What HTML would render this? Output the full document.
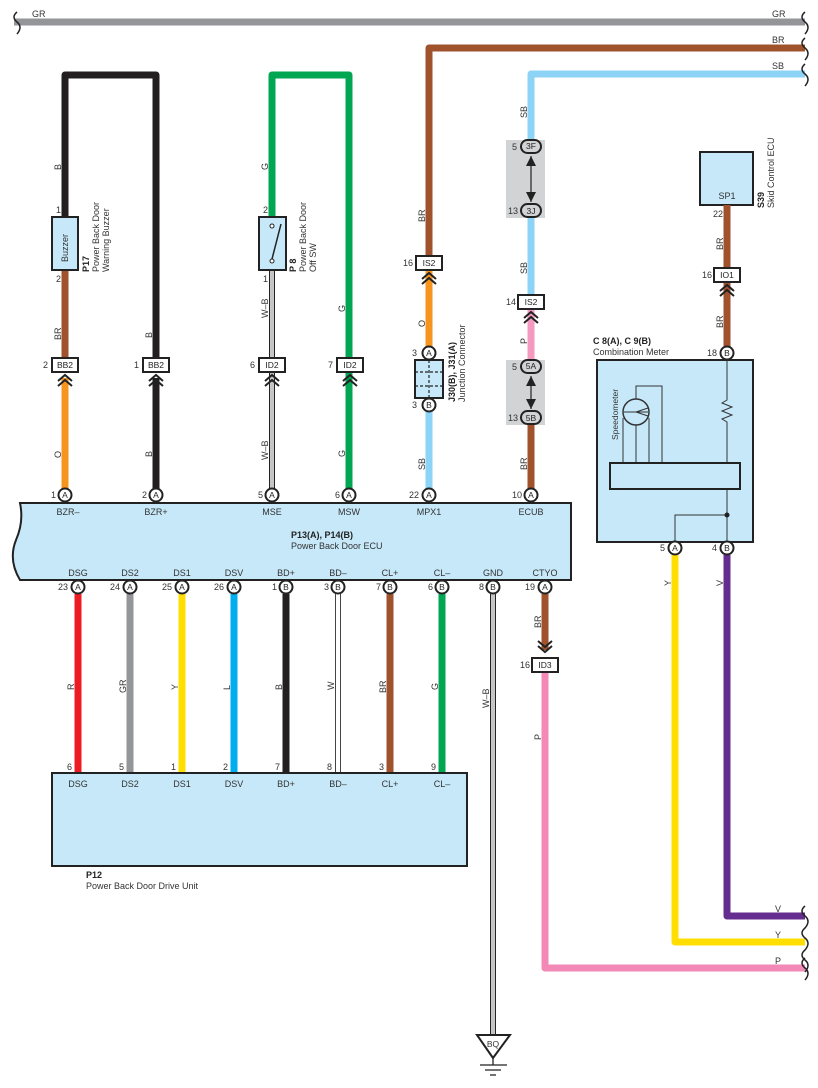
<!DOCTYPE html>
<html><head><meta charset="utf-8"><style>
html,body{margin:0;padding:0;background:#fff}
svg{display:block;font-family:"Liberation Sans",sans-serif}
text{fill:#333;font-size:9px}
.b{font-weight:bold;fill:#222}
.pc{fill:#fff;stroke:#222;stroke-width:2}
.pt{font-size:8.5px;fill:#222;text-anchor:middle}
.cb{fill:#fff;stroke:#222;stroke-width:2}
.ch{fill:none;stroke:#222;stroke-width:2}
.w{fill:none;stroke-width:7;stroke-linejoin:round}
.m{text-anchor:middle}
.e{text-anchor:end}
</style></head><body>
<svg width="818" height="1088" viewBox="0 0 818 1088" xmlns="http://www.w3.org/2000/svg">
<!-- top buses -->
<path class="w" stroke="#939598" d="M14 22H805"/>
<path d="M17 12q-6 5 0 10t0 12" fill="none" stroke="#222" stroke-width="1.5"/>
<path d="M805 12q-6 5 0 10t0 12" fill="none" stroke="#222" stroke-width="1.5"/>
<text x="32" y="17">GR</text><text x="772" y="17">GR</text>
<path class="w" stroke="#a0522d" d="M805 48H429V262"/>
<path d="M805 38q-6 5 0 10t0 12" fill="none" stroke="#222" stroke-width="1.5"/>
<text x="772" y="43">BR</text>
<path class="w" stroke="#8dd3f5" d="M805 74H531V301"/>
<path d="M805 64q-6 5 0 10t0 12" fill="none" stroke="#222" stroke-width="1.5"/>
<text x="772" y="69">SB</text>

<!-- black loop -->
<path class="w" stroke="#231f20" d="M65 217V75H156V365"/>
<path class="w" stroke="#231f20" d="M156 378V495"/>
<path class="w" stroke="#a0522d" d="M65 270V365"/>
<path class="w" stroke="#f7941d" d="M65 378V495"/>
<!-- green loop -->
<path class="w" stroke="#00a651" d="M272 217V75H349V495"/>
<!-- W-B double -->
<path d="M272 270V495" stroke="#222" stroke-width="6" fill="none"/>
<path d="M272 270V495" stroke="#fff" stroke-width="3.5" fill="none"/>
<path d="M272 270V495" stroke="#888" stroke-width="1" fill="none"/>

<!-- buzzer -->
<rect x="52" y="217" width="26" height="53" fill="#c6e8f9" stroke="#222" stroke-width="2"/>
<text transform="translate(68,262) rotate(-90)">Buzzer</text>
<text x="56" y="213">1</text><text x="56" y="282">2</text>
<text transform="translate(89,272) rotate(-90)" class="b">P17</text>
<text transform="translate(99,272) rotate(-90)">Power Back Door</text>
<text transform="translate(109,272) rotate(-90)">Warning Buzzer</text>
<text transform="translate(61,170) rotate(-90)">B</text>
<text transform="translate(61,340) rotate(-90)">BR</text>
<text transform="translate(61,458) rotate(-90)">O</text>
<text transform="translate(152,338) rotate(-90)">B</text>
<text transform="translate(152,457) rotate(-90)">B</text>
<!-- switch -->
<rect x="259" y="217" width="27" height="53" fill="#c6e8f9" stroke="#222" stroke-width="2"/>
<circle cx="272" cy="226" r="2" fill="#fff" stroke="#222"/><circle cx="272" cy="261" r="2" fill="#fff" stroke="#222"/>
<path d="M272 259L281 224" stroke="#222" stroke-width="1.5"/>
<text x="263" y="213">2</text><text x="263" y="282">1</text>
<text transform="translate(296,272) rotate(-90)" class="b">P 8</text>
<text transform="translate(306,272) rotate(-90)">Power Back Door</text>
<text transform="translate(316,272) rotate(-90)">Off SW</text>
<text transform="translate(268,170) rotate(-90)">G</text>
<text transform="translate(268,318) rotate(-90)">W–B</text>
<text transform="translate(268,460) rotate(-90)">W–B</text>
<text transform="translate(345,312) rotate(-90)">G</text>
<text transform="translate(345,457) rotate(-90)">G</text>

<!-- BB2/ID2 connectors row -->
<g>
<rect class="cb" x="52" y="358" width="26" height="14"/><text class="pt" x="65" y="368">BB2</text><text x="43" y="368">2</text>
<path class="ch" d="M58 381l7-6 7 6M58 386l7-6 7 6"/>
<rect class="cb" x="143" y="358" width="26" height="14"/><text class="pt" x="156" y="368">BB2</text><text x="134" y="368">1</text>
<path class="ch" d="M149 381l7-6 7 6M149 386l7-6 7 6"/>
<rect class="cb" x="259" y="358" width="26" height="14"/><text class="pt" x="272" y="368">ID2</text><text x="250" y="368">6</text>
<path class="ch" d="M265 381l7-6 7 6M265 386l7-6 7 6"/>
<rect class="cb" x="337" y="358" width="26" height="14"/><text class="pt" x="350" y="368">ID2</text><text x="328" y="368">7</text>
<path class="ch" d="M343 381l7-6 7 6M343 386l7-6 7 6"/>
</g>

<!-- MPX column -->
<path class="w" stroke="#f7941d" d="M429 270V353"/>
<path class="w" stroke="#8dd3f5" d="M429 405V495"/>
<rect class="cb" x="416" y="256" width="26" height="14"/><text class="pt" x="429" y="266">IS2</text><text x="403" y="266">16</text>
<path class="ch" d="M422 279l7-6 7 6M422 284l7-6 7 6"/>
<text transform="translate(425,222) rotate(-90)">BR</text>
<text transform="translate(425,327) rotate(-90)">O</text>
<text transform="translate(425,470) rotate(-90)">SB</text>
<rect x="415" y="360" width="28" height="38" fill="#c6e8f9" stroke="#222" stroke-width="2"/>
<path d="M429 360V398M415 372H443M415 386H443" stroke="#222" stroke-width="1.2" stroke-dasharray="3 2"/>
<circle class="pc" cx="429" cy="353" r="6.5"/><text class="pt" x="429" y="356">A</text><text x="412" y="356">3</text>
<circle class="pc" cx="429" cy="405" r="6.5"/><text class="pt" x="429" y="408">B</text><text x="412" y="408">3</text>
<text transform="translate(455,402) rotate(-90)" class="b">J30(B), J31(A)</text>
<text transform="translate(465,402) rotate(-90)">Junction Connector</text>

<!-- ECUB column -->
<rect x="506" y="140" width="39" height="78" fill="#d1d3d4"/>
<rect x="506" y="360" width="39" height="65" fill="#d1d3d4"/>
<path class="w" stroke="#8dd3f5" d="M531 218V301"/>
<path class="w" stroke="#f49ac1" d="M531 308V360"/>
<path class="w" stroke="#a0522d" d="M531 424V495"/>
<rect x="521" y="140" width="20" height="13" rx="6.5" fill="#d1d3d4" stroke="#222" stroke-width="2"/><text class="pt" x="531" y="149">3F</text><text x="512" y="150">5</text>
<rect x="521" y="204" width="20" height="13" rx="6.5" fill="#d1d3d4" stroke="#222" stroke-width="2"/><text class="pt" x="531" y="214">3J</text><text x="508" y="214">13</text>
<path d="M531 156V202" stroke="#222" stroke-width="1.2"/>
<path d="M526 166l5-10 5 10zM526 192l5 10 5-10z" fill="#222"/>
<rect x="521" y="360" width="20" height="13" rx="6.5" fill="#d1d3d4" stroke="#222" stroke-width="2"/><text class="pt" x="531" y="369">5A</text><text x="512" y="370">5</text>
<rect x="521" y="411" width="20" height="13" rx="6.5" fill="#d1d3d4" stroke="#222" stroke-width="2"/><text class="pt" x="531" y="421">5B</text><text x="508" y="421">13</text>
<path d="M531 376V409" stroke="#222" stroke-width="1.2"/>
<path d="M526 386l5-10 5 10zM526 399l5 10 5-10z" fill="#222"/>
<rect class="cb" x="518" y="295" width="26" height="14"/><text class="pt" x="531" y="305">IS2</text><text x="506" y="305">14</text>
<path class="ch" d="M524 318l7-6 7 6M524 323l7-6 7 6"/>
<text transform="translate(527,118) rotate(-90)">SB</text>
<text transform="translate(527,274) rotate(-90)">SB</text>
<text transform="translate(527,344) rotate(-90)">P</text>
<text transform="translate(527,470) rotate(-90)">BR</text>

<!-- SP1 & meter -->
<rect x="700" y="152" width="53" height="53" fill="#c6e8f9" stroke="#222" stroke-width="2"/>
<text class="m" x="727" y="199">SP1</text>
<text x="713" y="217">22</text>
<text transform="translate(764,208) rotate(-90)" class="b">S39</text>
<text transform="translate(774,208) rotate(-90)">Skid Control ECU</text>
<path class="w" stroke="#a0522d" d="M727 205V269"/>
<path class="w" stroke="#a0522d" d="M727 282V353"/>
<rect class="cb" x="714" y="268" width="26" height="14"/><text class="pt" x="727" y="278">IO1</text><text x="702" y="278">16</text>
<path class="ch" d="M720 291l7-6 7 6M720 296l7-6 7 6"/>
<text transform="translate(723,250) rotate(-90)">BR</text>
<text transform="translate(723,328) rotate(-90)">BR</text>
<text x="593" y="344" class="b">C 8(A), C 9(B)</text>
<text x="593" y="355">Combination Meter</text>
<rect x="597" y="360" width="156" height="182" fill="#c6e8f9" stroke="#222" stroke-width="2"/>
<g fill="none" stroke="#333" stroke-width="1">
<circle cx="636" cy="412" r="13" stroke-width="1.5"/>
<path d="M624 412H648M636 412l12-4M636 412l12 4"/>
<path d="M623 418V463M636 425V463M649 418V463M636 399V386H662V463"/>
<path d="M727 360V400l-5 3 10 4-10 4 10 4-10 4 5 3V463M727 489V548M675 548V515H727"/>
</g>
<rect x="610" y="463" width="130" height="26" fill="#c6e8f9" stroke="#222" stroke-width="2"/>
<circle cx="727" cy="515" r="2.5" fill="#222"/>
<text transform="translate(618,440) rotate(-90)" style="font-size:8.5px">Speedometer</text>
<circle class="pc" cx="727" cy="353" r="6.5"/><text class="pt" x="727" y="356">B</text><text x="707" y="356">18</text>
<path class="w" stroke="#ffde00" d="M675 555V942H805"/>
<path class="w" stroke="#662d91" d="M727 555V916H805"/>
<path class="w" stroke="#f389b6" d="M545 672V968H805"/>
<circle class="pc" cx="675" cy="548" r="6.5"/><text class="pt" x="675" y="551">A</text><text x="660" y="551">5</text>
<circle class="pc" cx="727" cy="548" r="6.5"/><text class="pt" x="727" y="551">B</text><text x="712" y="551">4</text>
<text transform="translate(671,586) rotate(-90)">Y</text>
<text transform="translate(723,586) rotate(-90)">V</text>
<text x="775" y="912">V</text><text x="775" y="938">Y</text><text x="775" y="964">P</text>
<path d="M805 906q-6 5 0 10t0 12q-6 5 0 10t0 12q-6 5 0 10t0 12" fill="none" stroke="#222" stroke-width="1.5"/>
<path d="M805 958q-6 5 0 10t0 12" fill="none" stroke="#222" stroke-width="1.5"/>

<!-- ECU box -->
<path d="M20 503H571V580H20Q8 560 16 540Q24 522 20 503Z" fill="#c6e8f9" stroke="#222" stroke-width="2"/>
<text class="m" x="68" y="515">BZR–</text><text class="m" x="156" y="515">BZR+</text>
<text class="m" x="272" y="515">MSE</text><text class="m" x="349" y="515">MSW</text>
<text class="m" x="429" y="515">MPX1</text><text class="m" x="531" y="515">ECUB</text>
<text x="291" y="538" class="b">P13(A), P14(B)</text>
<text x="291" y="549">Power Back Door ECU</text>
<g class="m">
<text class="m" x="78" y="576">DSG</text><text class="m" x="130" y="576">DS2</text><text class="m" x="182" y="576">DS1</text>
<text class="m" x="234" y="576">DSV</text><text class="m" x="286" y="576">BD+</text><text class="m" x="338" y="576">BD–</text>
<text class="m" x="390" y="576">CL+</text><text class="m" x="442" y="576">CL–</text><text class="m" x="493" y="576">GND</text>
<text class="m" x="545" y="576">CTYO</text>
</g>
<!-- top pins -->
<circle class="pc" cx="65" cy="495" r="6.5"/><text class="pt" x="65" y="498">A</text><text x="51" y="498">1</text>
<circle class="pc" cx="156" cy="495" r="6.5"/><text class="pt" x="156" y="498">A</text><text x="142" y="498">2</text>
<circle class="pc" cx="272" cy="495" r="6.5"/><text class="pt" x="272" y="498">A</text><text x="258" y="498">5</text>
<circle class="pc" cx="349" cy="495" r="6.5"/><text class="pt" x="349" y="498">A</text><text x="335" y="498">6</text>
<circle class="pc" cx="429" cy="495" r="6.5"/><text class="pt" x="429" y="498">A</text><text x="409" y="498">22</text>
<circle class="pc" cx="531" cy="495" r="6.5"/><text class="pt" x="531" y="498">A</text><text x="512" y="498">10</text>

<!-- bottom wires -->
<path class="w" stroke="#ed1c24" d="M78 594V773"/>
<path class="w" stroke="#939598" d="M130 594V773"/>
<path class="w" stroke="#ffde00" d="M182 594V773"/>
<path class="w" stroke="#00aeef" d="M234 594V773"/>
<path class="w" stroke="#231f20" d="M286 594V773"/>
<path d="M338 594V773" stroke="#444" stroke-width="6" fill="none"/><path d="M338 594V773" stroke="#fff" stroke-width="4" fill="none"/>
<path class="w" stroke="#a0522d" d="M390 594V773"/>
<path class="w" stroke="#00a651" d="M442 594V773"/>
<path d="M493 594V1035" stroke="#222" stroke-width="6" fill="none"/><path d="M493 594V1035" stroke="#fff" stroke-width="3.5" fill="none"/><path d="M493 594V1035" stroke="#888" stroke-width="1" fill="none"/>
<path class="w" stroke="#a0522d" d="M545 594V650"/>
<path class="ch" d="M538 641l7 6 7-6M538 646l7 6 7-6"/>
<rect class="cb" x="532" y="658" width="26" height="14"/><text class="pt" x="545" y="668">ID3</text><text x="520" y="668">16</text>
<text transform="translate(541,628) rotate(-90)">BR</text>
<text transform="translate(541,740) rotate(-90)">P</text>
<text transform="translate(74,690) rotate(-90)">R</text>
<text transform="translate(126,693) rotate(-90)">GR</text>
<text transform="translate(178,690) rotate(-90)">Y</text>
<text transform="translate(230,690) rotate(-90)">L</text>
<text transform="translate(282,690) rotate(-90)">B</text>
<text transform="translate(334,690) rotate(-90)">W</text>
<text transform="translate(386,693) rotate(-90)">BR</text>
<text transform="translate(438,690) rotate(-90)">G</text>
<text transform="translate(489,708) rotate(-90)">W–B</text>
<!-- bottom pins -->
<circle class="pc" cx="78" cy="587" r="6.5"/><text class="pt" x="78" y="590">A</text><text x="58" y="590">23</text>
<circle class="pc" cx="130" cy="587" r="6.5"/><text class="pt" x="130" y="590">A</text><text x="110" y="590">24</text>
<circle class="pc" cx="182" cy="587" r="6.5"/><text class="pt" x="182" y="590">A</text><text x="162" y="590">25</text>
<circle class="pc" cx="234" cy="587" r="6.5"/><text class="pt" x="234" y="590">A</text><text x="214" y="590">26</text>
<circle class="pc" cx="286" cy="587" r="6.5"/><text class="pt" x="286" y="590">B</text><text x="272" y="590">1</text>
<circle class="pc" cx="338" cy="587" r="6.5"/><text class="pt" x="338" y="590">B</text><text x="324" y="590">3</text>
<circle class="pc" cx="390" cy="587" r="6.5"/><text class="pt" x="390" y="590">B</text><text x="376" y="590">7</text>
<circle class="pc" cx="442" cy="587" r="6.5"/><text class="pt" x="442" y="590">B</text><text x="428" y="590">6</text>
<circle class="pc" cx="493" cy="587" r="6.5"/><text class="pt" x="493" y="590">B</text><text x="479" y="590">8</text>
<circle class="pc" cx="545" cy="587" r="6.5"/><text class="pt" x="545" y="590">A</text><text x="525" y="590">19</text>

<!-- P12 -->
<rect x="52" y="773" width="415" height="93" fill="#c6e8f9" stroke="#222" stroke-width="2"/>
<text x="67" y="770">6</text><text x="119" y="770">5</text><text x="171" y="770">1</text><text x="223" y="770">2</text>
<text x="275" y="770">7</text><text x="327" y="770">8</text><text x="379" y="770">3</text><text x="431" y="770">9</text>
<text class="m" x="78" y="787">DSG</text><text class="m" x="130" y="787">DS2</text><text class="m" x="182" y="787">DS1</text>
<text class="m" x="234" y="787">DSV</text><text class="m" x="286" y="787">BD+</text><text class="m" x="338" y="787">BD–</text>
<text class="m" x="390" y="787">CL+</text><text class="m" x="442" y="787">CL–</text>
<text x="86" y="878" class="b">P12</text>
<text x="86" y="889">Power Back Door Drive Unit</text>

<!-- ground -->
<path d="M477 1035H510L493 1058Z" fill="#fff" stroke="#222" stroke-width="2"/>
<text class="m" x="493" y="1047" style="font-size:8.5px">BQ</text>
<path d="M493 1058V1065M480 1065H507M485 1070H501M490 1075H496" stroke="#222" stroke-width="1.3"/>
</svg>
</body></html>
